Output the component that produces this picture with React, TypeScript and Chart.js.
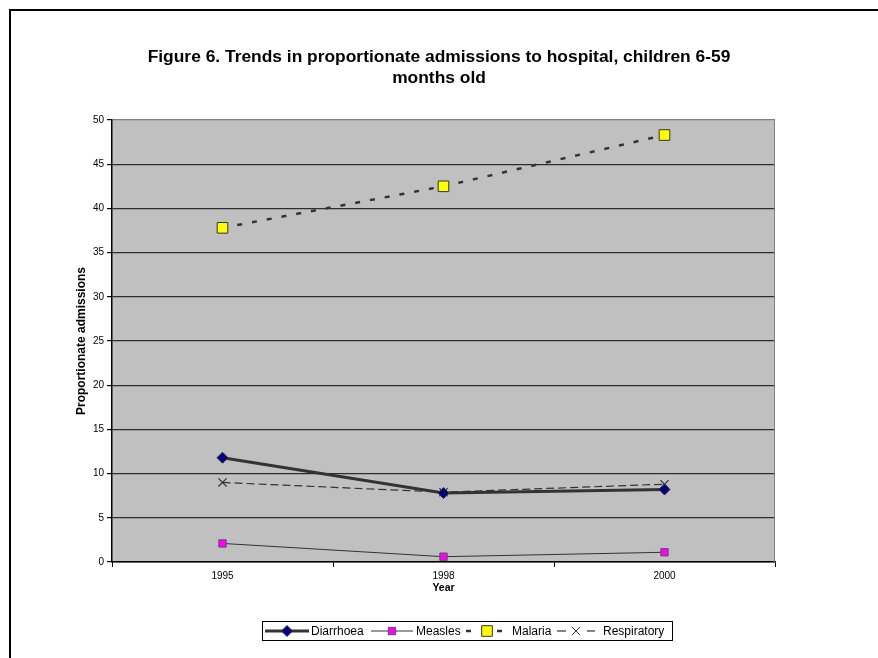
import React, { useEffect, useRef } from "react";
import { Chart, registerables } from "chart.js";

Chart.register(...registerables);

const categories = ["1995", "1998", "2000"];
const diarrhoea = [11.8, 7.8, 8.2];
const measles = [2.1, 0.6, 1.1];
const malaria = [37.8, 42.5, 48.3];
const respiratory = [9.0, 7.9, 8.8];
const titleLines = [
  "Figure 6. Trends in proportionate admissions to hospital, children 6-59",
  "months old",
];
const yTitle = "Proportionate admissions";
const xTitle = "Year";
const yMin = 0;
const yMax = 50;
const yStep = 5;

const FONT = "'Liberation Sans', Arial, sans-serif";

function drawMarker(ctx: CanvasRenderingContext2D, style: string, x: number, y: number, r: number, bg: string, border: string) {
  ctx.save();
  ctx.setLineDash([]);
  ctx.lineWidth = 1;
  ctx.strokeStyle = border;
  ctx.fillStyle = bg;
  ctx.beginPath();
  if (style === "rectRot") {
    ctx.moveTo(x, y - r);
    ctx.lineTo(x + r, y);
    ctx.lineTo(x, y + r);
    ctx.lineTo(x - r, y);
    ctx.closePath();
    ctx.fill();
    ctx.stroke();
  } else if (style === "rect") {
    const s = r * Math.SQRT1_2;
    ctx.rect(x - s, y - s, 2 * s, 2 * s);
    ctx.fill();
    ctx.stroke();
  } else if (style === "crossRot") {
    const s = r * Math.SQRT1_2;
    ctx.moveTo(x - s, y - s);
    ctx.lineTo(x + s, y + s);
    ctx.moveTo(x + s, y - s);
    ctx.lineTo(x - s, y + s);
    ctx.stroke();
  }
  ctx.restore();
}

const framePlugin = {
  id: "frame",
  beforeDraw(chart: any) {
    const { ctx, chartArea } = chart;
    ctx.save();
    ctx.fillStyle = "#C0C0C0";
    ctx.fillRect(chartArea.left, chartArea.top, chartArea.right - chartArea.left, chartArea.bottom - chartArea.top);
    ctx.strokeStyle = "#000";
    ctx.lineWidth = 2;
    ctx.beginPath();
    ctx.moveTo(10, 700);
    ctx.lineTo(10, 10);
    ctx.lineTo(900, 10);
    ctx.stroke();
    ctx.restore();
  },
  beforeDatasetsDraw(chart: any) {
    const { ctx, chartArea } = chart;
    ctx.save();
    ctx.strokeStyle = "#808080";
    ctx.lineWidth = 1;
    ctx.beginPath();
    ctx.moveTo(chartArea.right - 0.5, chartArea.top);
    ctx.lineTo(chartArea.right - 0.5, chartArea.bottom);
    ctx.stroke();
    ctx.restore();
  },
  afterDraw(chart: any) {
    const { ctx } = chart;
    ctx.save();
    // title
    ctx.fillStyle = "#000";
    ctx.font = `bold 17.4px ${FONT}`;
    ctx.textAlign = "center";
    ctx.textBaseline = "middle";
    titleLines.forEach((t, i) => ctx.fillText(t, 439, 57 + i * 21));
    // legend
    ctx.strokeStyle = "#000";
    ctx.lineWidth = 1;
    ctx.strokeRect(262.5, 621.5, 410, 19);
    const cy = 631;
    const items = [
      { ds: 0, segs: [[265, 309]], mx: 287, tx: 311 },
      { ds: 1, segs: [[371, 413]], mx: 392, tx: 416 },
      { ds: 2, segs: [[466, 471], [497, 502]], mx: 487, tx: 512 },
      { ds: 3, segs: [[557, 566], [587, 595]], mx: 576, tx: 603 },
    ];
    ctx.font = `12px ${FONT}`;
    ctx.textBaseline = "middle";
    ctx.textAlign = "left";
    items.forEach((it) => {
      const d: any = chart.data.datasets[it.ds];
      ctx.strokeStyle = d.borderColor;
      ctx.lineWidth = d.borderWidth;
      ctx.setLineDash([]);
      it.segs.forEach((s) => {
        ctx.beginPath();
        ctx.moveTo(s[0], cy);
        ctx.lineTo(s[1], cy);
        ctx.stroke();
      });
      drawMarker(ctx, d.pointStyle, it.mx, cy, d.pointRadius, d.pointBackgroundColor, d.pointBorderColor);
      ctx.fillStyle = "#000";
      ctx.fillText(d.label, it.tx, cy + 0.5);
    });
    ctx.restore();
  },
};

export default function App() {
  const ref = useRef<HTMLCanvasElement>(null);
  useEffect(() => {
    const canvas = ref.current!;
    const chart = new Chart(canvas, {
      type: "line",
      data: {
        labels: categories,
        datasets: [
          {
            label: "Diarrhoea",
            data: diarrhoea,
            borderColor: "#333333",
            borderWidth: 3,
            pointStyle: "rectRot",
            pointRadius: 5.5,
            pointBackgroundColor: "#000080",
            pointBorderColor: "#333333",
            pointBorderWidth: 1,
          },
          {
            label: "Measles",
            data: measles,
            borderColor: "#333333",
            borderWidth: 1,
            pointStyle: "rect",
            pointRadius: 5.2,
            pointBackgroundColor: "#FF00FF",
            pointBorderColor: "#555555",
            pointBorderWidth: 1,
          },
          {
            label: "Malaria",
            data: malaria,
            borderColor: "#333333",
            borderWidth: 2.5,
            borderDash: [5, 10],
            pointStyle: "rect",
            pointRadius: 7.5,
            pointBackgroundColor: "#FFFF00",
            pointBorderColor: "#333333",
            pointBorderWidth: 1,
          },
          {
            label: "Respiratory",
            data: respiratory,
            borderColor: "#333333",
            borderWidth: 1.2,
            borderDash: [8, 4],
            pointStyle: "crossRot",
            pointRadius: 5.8,
            pointBackgroundColor: "#333333",
            pointBorderColor: "#333333",
            pointBorderWidth: 1.2,
          },
        ] as any,
      },
      options: {
        animation: false,
        responsive: false,
        maintainAspectRatio: false,
        layout: { padding: { left: 0, right: 103, top: 120, bottom: 56 } },
        plugins: {
          legend: { display: false },
          tooltip: { enabled: false },
          title: { display: false },
        },
        scales: {
          x: {
            type: "category",
            offset: true,
            afterFit: (s: any) => { s.height = 40; },
            grid: {
              display: true,
              offset: true,
              drawOnChartArea: false,
              drawTicks: true,
              tickLength: 5,
              color: "#000",
            },
            border: { display: true, color: "#000", width: 1.5 },
            ticks: { color: "#000", font: { family: FONT, size: 10 }, padding: 3, maxRotation: 0 },
            title: {
              display: true,
              text: xTitle,
              color: "#000",
              font: { family: FONT, size: 10.5, weight: "bold" },
              padding: { top: 0, bottom: 8 },
            },
          },
          y: {
            min: yMin,
            max: yMax,
            afterFit: (s: any) => { s.width = 112; },
            grid: {
              color: (c: any) => (c.tick && c.tick.value === yMax ? "#808080" : "#2e2e2e"),
              lineWidth: 1.2,
              drawTicks: true,
              tickLength: 5,
              tickColor: "#000",
            },
            border: { display: true, color: "#000", width: 1.5 },
            ticks: { stepSize: yStep, color: "#000", font: { family: FONT, size: 10 }, padding: 3 },
            title: {
              display: true,
              text: yTitle,
              color: "#000",
              font: { family: FONT, size: 12, weight: "bold" },
              padding: { top: 74, bottom: 0 },
            },
          },
        },
      } as any,
      plugins: [framePlugin],
    });
    return () => chart.destroy();
  }, []);
  return (
    <div style={{ position: "fixed", left: 0, top: 0, width: 878, height: 658 }}>
      <canvas ref={ref} width={878} height={658} style={{ width: 878, height: 658 }} />
    </div>
  );
}
